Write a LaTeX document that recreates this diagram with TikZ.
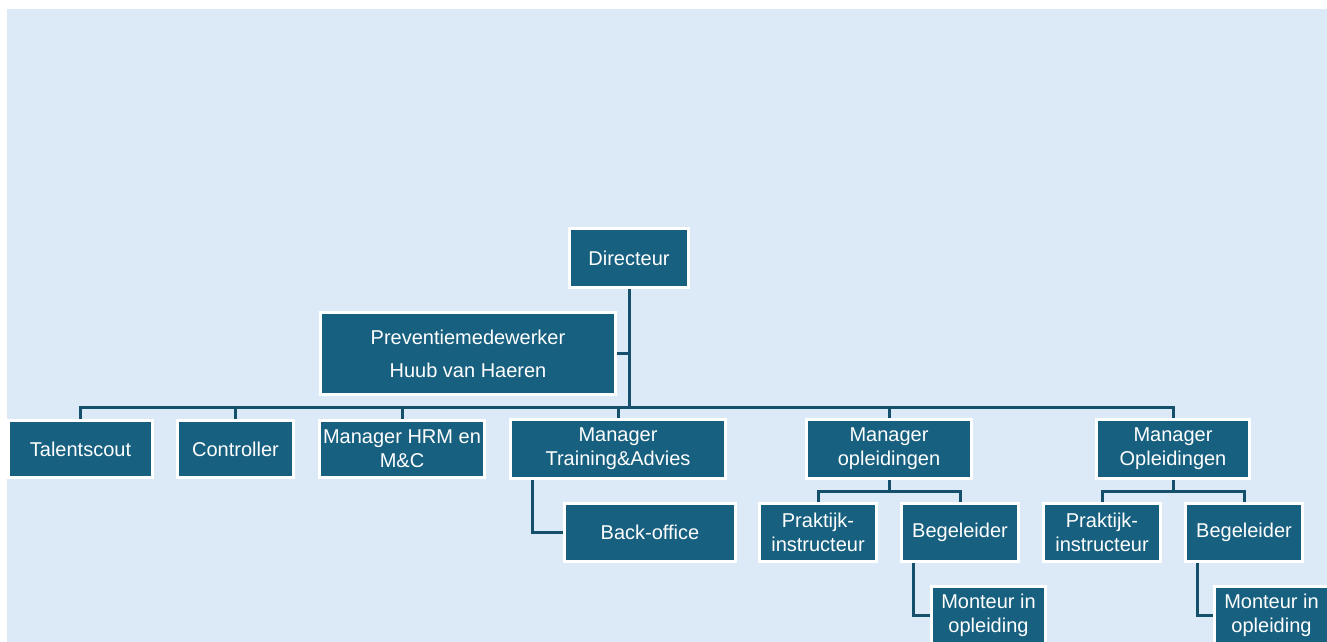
\documentclass[tikz,border=0pt]{standalone}
\usepackage{fontspec}
\setmainfont{Liberation Sans}
\definecolor{bgc}{HTML}{DCE9F6}
\definecolor{boxc}{HTML}{17607F}
\definecolor{linec}{HTML}{144F6C}
\tikzset{
  bx/.style={fill=boxc, draw=white, line width=2pt, text=white, inner sep=0pt,
    align=center, font=\fontsize{20}{24}\selectfont},
  conn/.style={draw=linec, line width=3pt},
}
\begin{document}
\begin{tikzpicture}[x=1pt,y=-1pt]
\useasboundingbox (0,0) rectangle (1327,642);
\begin{scope}
\clip (0,0) rectangle (1327,642);
\fill[white] (0,0) rectangle (1327,642);
\fill[bgc] (7,9) rectangle (1327,642);

% nodes
\node[bx, minimum width=118, minimum height=58] (D) at (629,258) {Directeur};
\node[bx, minimum width=294, minimum height=81, font=\fontsize{20}{33}\selectfont] (P) at (468,353.5) {Preventiemedewerker\\Huub van Haeren};
\node[bx, minimum width=143, minimum height=56] (T) at (80.5,449) {Talentscout};
\node[bx, minimum width=115, minimum height=56] (C) at (235.5,449) {Controller};
\node[bx, minimum width=164, minimum height=56] (H) at (402,449) {Manager HRM en\\M\&C};
\node[bx, minimum width=214, minimum height=58] (TA) at (618,449) {Manager\\Training\&Advies};
\node[bx, minimum width=164, minimum height=58] (MA) at (889,449) {Manager\\opleidingen};
\node[bx, minimum width=152, minimum height=58] (MB) at (1173,449) {Manager\\Opleidingen};
\node[bx, minimum width=170, minimum height=57] (BO) at (650,532.5) {Back-office};
\node[bx, minimum width=116, minimum height=57] (PA) at (818,532.5) {Praktijk-\\instructeur};
\node[bx, minimum width=116, minimum height=57] (BA) at (960,532.5) {Begeleider};
\node[bx, minimum width=116, minimum height=57] (PB) at (1102,532.5) {Praktijk-\\instructeur};
\node[bx, minimum width=116, minimum height=57] (BB) at (1244,532.5) {Begeleider};
\node[bx, minimum width=113, minimum height=56] (MoA) at (988.5,615) {Monteur in\\opleiding};
\node[bx, minimum width=113, minimum height=56] (MoB) at (1271.5,615) {Monteur in\\opleiding};

% connectors
\coordinate (bus) at (629,407);
\coordinate (sa) at (889,491);
\coordinate (sb) at (1173,491);
\draw[conn] (D.south) -- (bus);
\draw[conn] (P.east) -- (P.east -| D.south);
\foreach \n in {T,C,H,TA,MA,MB} { \draw[conn] (bus) -| (\n.north); }
\draw[conn] ([xshift=-86pt]TA.south) |- (BO.west);
\draw[conn] (MA.south) -- (sa);
\draw[conn] (sa) -| (PA.north);
\draw[conn] (sa) -| (BA.north);
\draw[conn] (MB.south) -- (sb);
\draw[conn] (sb) -| (PB.north);
\draw[conn] (sb) -| (BB.north);
\draw[conn] ([xshift=-47pt]BA.south) |- (MoA.west);
\draw[conn] ([xshift=-47pt]BB.south) |- (MoB.west);

% redraw node borders over connector ends
\foreach \n in {D,P,T,C,H,TA,MA,MB,BO,PA,BA,PB,BB,MoA,MoB} {
  \draw[draw=white, line width=2pt] (\n.south west) rectangle (\n.north east);
}
\end{scope}
\end{tikzpicture}
\end{document}
